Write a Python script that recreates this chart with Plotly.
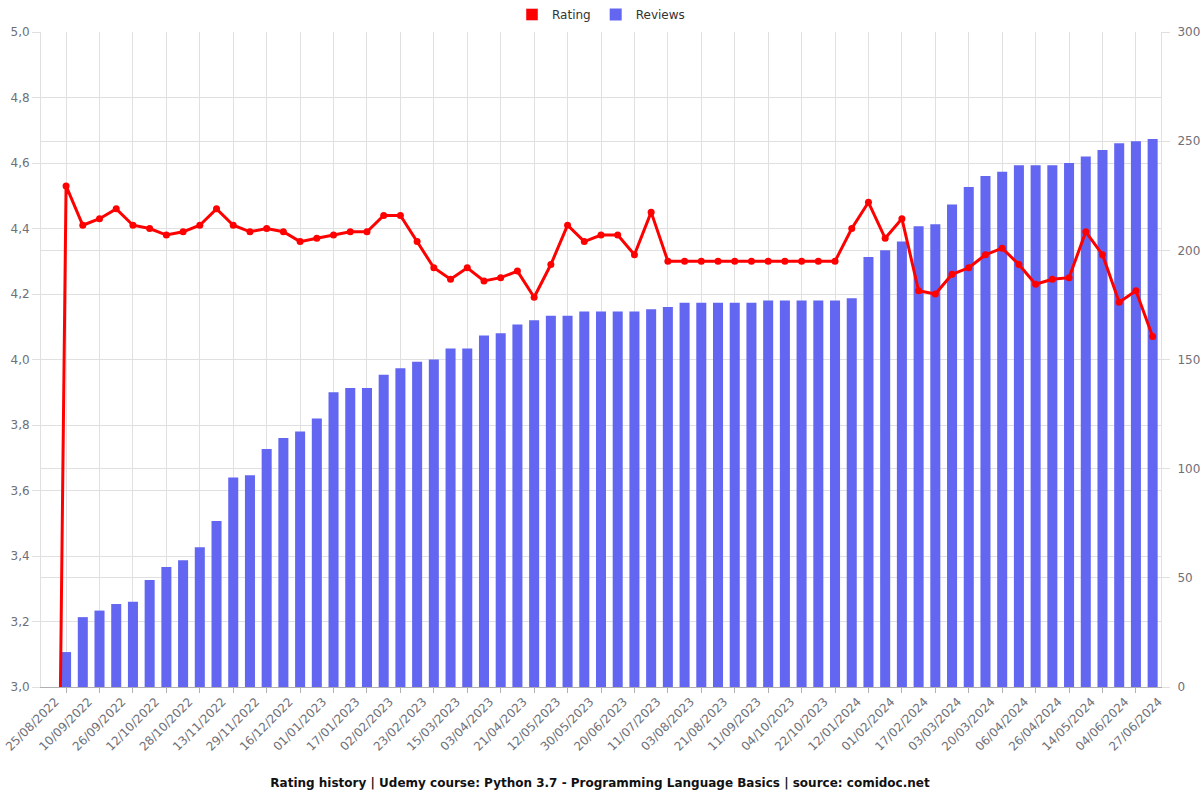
import plotly.graph_objects as go

dates = [
    "25/08/2022", "02/09/2022", "10/09/2022", "18/09/2022", "26/09/2022", "04/10/2022",
    "12/10/2022", "20/10/2022", "28/10/2022", "05/11/2022", "13/11/2022", "21/11/2022",
    "29/11/2022", "07/12/2022", "16/12/2022", "24/12/2022", "01/01/2023", "09/01/2023",
    "17/01/2023", "25/01/2023", "02/02/2023", "12/02/2023", "23/02/2023", "05/03/2023",
    "15/03/2023", "24/03/2023", "03/04/2023", "12/04/2023", "21/04/2023", "01/05/2023",
    "12/05/2023", "21/05/2023", "30/05/2023", "09/06/2023", "20/06/2023", "30/06/2023",
    "11/07/2023", "22/07/2023", "03/08/2023", "12/08/2023", "21/08/2023", "31/08/2023",
    "11/09/2023", "22/09/2023", "04/10/2023", "13/10/2023", "22/10/2023", "20/12/2023",
    "12/01/2024", "22/01/2024", "01/02/2024", "09/02/2024", "17/02/2024", "25/02/2024",
    "03/03/2024", "11/03/2024", "20/03/2024", "28/03/2024", "06/04/2024", "16/04/2024",
    "26/04/2024", "05/05/2024", "14/05/2024", "24/05/2024", "04/06/2024", "15/06/2024",
    "27/06/2024",
]

rating = [
    0.0, 4.53, 4.41, 4.43, 4.46, 4.41, 4.40, 4.38, 4.39, 4.41, 4.46, 4.41,
    4.39, 4.40, 4.39, 4.36, 4.37, 4.38, 4.39, 4.39, 4.44, 4.44, 4.36, 4.28,
    4.245, 4.28, 4.24, 4.25, 4.27, 4.19, 4.29, 4.41, 4.36, 4.38, 4.38, 4.32,
    4.45, 4.30, 4.30, 4.30, 4.30, 4.30, 4.30, 4.30, 4.30, 4.30, 4.30, 4.30,
    4.40, 4.48, 4.37, 4.43, 4.21, 4.20, 4.26, 4.28, 4.32, 4.34, 4.29, 4.23,
    4.245, 4.25, 4.39, 4.32, 4.175, 4.21, 4.07,
]

reviews = [
    0, 16, 32, 35, 38, 39, 49, 55, 58, 64, 76, 96,
    97, 109, 114, 117, 123, 135, 137, 137, 143, 146, 149, 150,
    155, 155, 161, 162, 166, 168, 170, 170, 172, 172, 172, 172,
    173, 174, 176, 176, 176, 176, 176, 177, 177, 177, 177, 177,
    178, 197, 200, 204, 211, 212, 221, 229, 234, 236, 239, 239,
    239, 240, 243, 246, 249, 250, 251,
]

left_ticks = [3.0, 3.2, 3.4, 3.6, 3.8, 4.0, 4.2, 4.4, 4.6, 4.8, 5.0]
right_ticks = [0, 50, 100, 150, 200, 250, 300]

title_text = "Rating history | Udemy course: Python 3.7 - Programming Language Basics | source: comidoc.net"

idx = list(range(len(dates)))
RED = "#ff0000"
BLUE = "#6366f1"
GRID = "#e0e0e0"
TXT = "#6e7079"
FONT = "DejaVu Sans"

fig = go.Figure()

fig.add_trace(go.Bar(
    x=idx, y=reviews, name="Reviews", yaxis="y",
    marker=dict(color=BLUE, line=dict(width=0)),
    width=0.6, showlegend=True, legendrank=2,
))

# legend-only swatch for Rating (rectangle like the reference)
fig.add_trace(go.Bar(
    x=[None], y=[None], name="Rating", yaxis="y",
    marker=dict(color=RED), showlegend=True, legendrank=1,
))

fig.add_trace(go.Scatter(
    x=idx, y=rating, name="Rating", yaxis="y2", mode="lines+markers",
    line=dict(color=RED, width=3), marker=dict(color=RED, size=7),
    showlegend=False, cliponaxis=True,
))

fig.update_layout(
    width=1200, height=800,
    margin=dict(l=41, r=39, t=32, b=113, autoexpand=False),
    paper_bgcolor="white", plot_bgcolor="white",
    separators=",.",
    font=dict(family=FONT, size=12, color=TXT),
    bargap=0.4,
    xaxis=dict(
        type="linear", range=[-0.5, len(dates) - 0.5],
        tickvals=idx[::2], ticktext=dates[::2], tickangle=-45,
        ticklabeloverflow="allow", ticklabelshift=6, ticklabelstandoff=2,
        ticks="", showgrid=False, zeroline=False,
        showline=True, linecolor="#b0b0b0", linewidth=1,
        tickfont=dict(family=FONT, size=12, color=TXT),
        minor=dict(tick0=1, dtick=2, showgrid=True, gridcolor=GRID, gridwidth=1,
                   ticks="outside", ticklen=5, tickcolor="#b0b0b0"),
    ),
    yaxis=dict(
        side="right", range=[0, 300], tickvals=right_ticks,
        showgrid=True, gridcolor=GRID, zeroline=False,
        ticks="outside", ticklen=8, tickcolor=GRID,
        ticklabelstandoff=5,
        showline=True, linecolor=GRID,
        tickfont=dict(family=FONT, size=12, color=TXT),
    ),
    yaxis2=dict(
        side="left", overlaying="y", range=[3.0, 5.0], tickvals=left_ticks,
        tickformat=".1f",
        showgrid=True, gridcolor=GRID, zeroline=False,
        ticks="outside", ticklen=8, tickcolor=GRID,
        showline=True, linecolor=GRID,
        tickfont=dict(family=FONT, size=12, color=TXT),
    ),
    legend=dict(
        orientation="h", x=0.5, xanchor="center", y=1.0, yanchor="top",
        yref="container", font=dict(family=FONT, size=12, color="#333"),
        traceorder="normal", bgcolor="rgba(0,0,0,0)",
    ),
    title=dict(
        text="<b>" + title_text + "</b>", x=0.5, xanchor="center",
        y=0.021, yanchor="middle", yref="container",
        font=dict(family=FONT, size=12, color="#111"),
    ),
)

fig.write_html("out.html")
